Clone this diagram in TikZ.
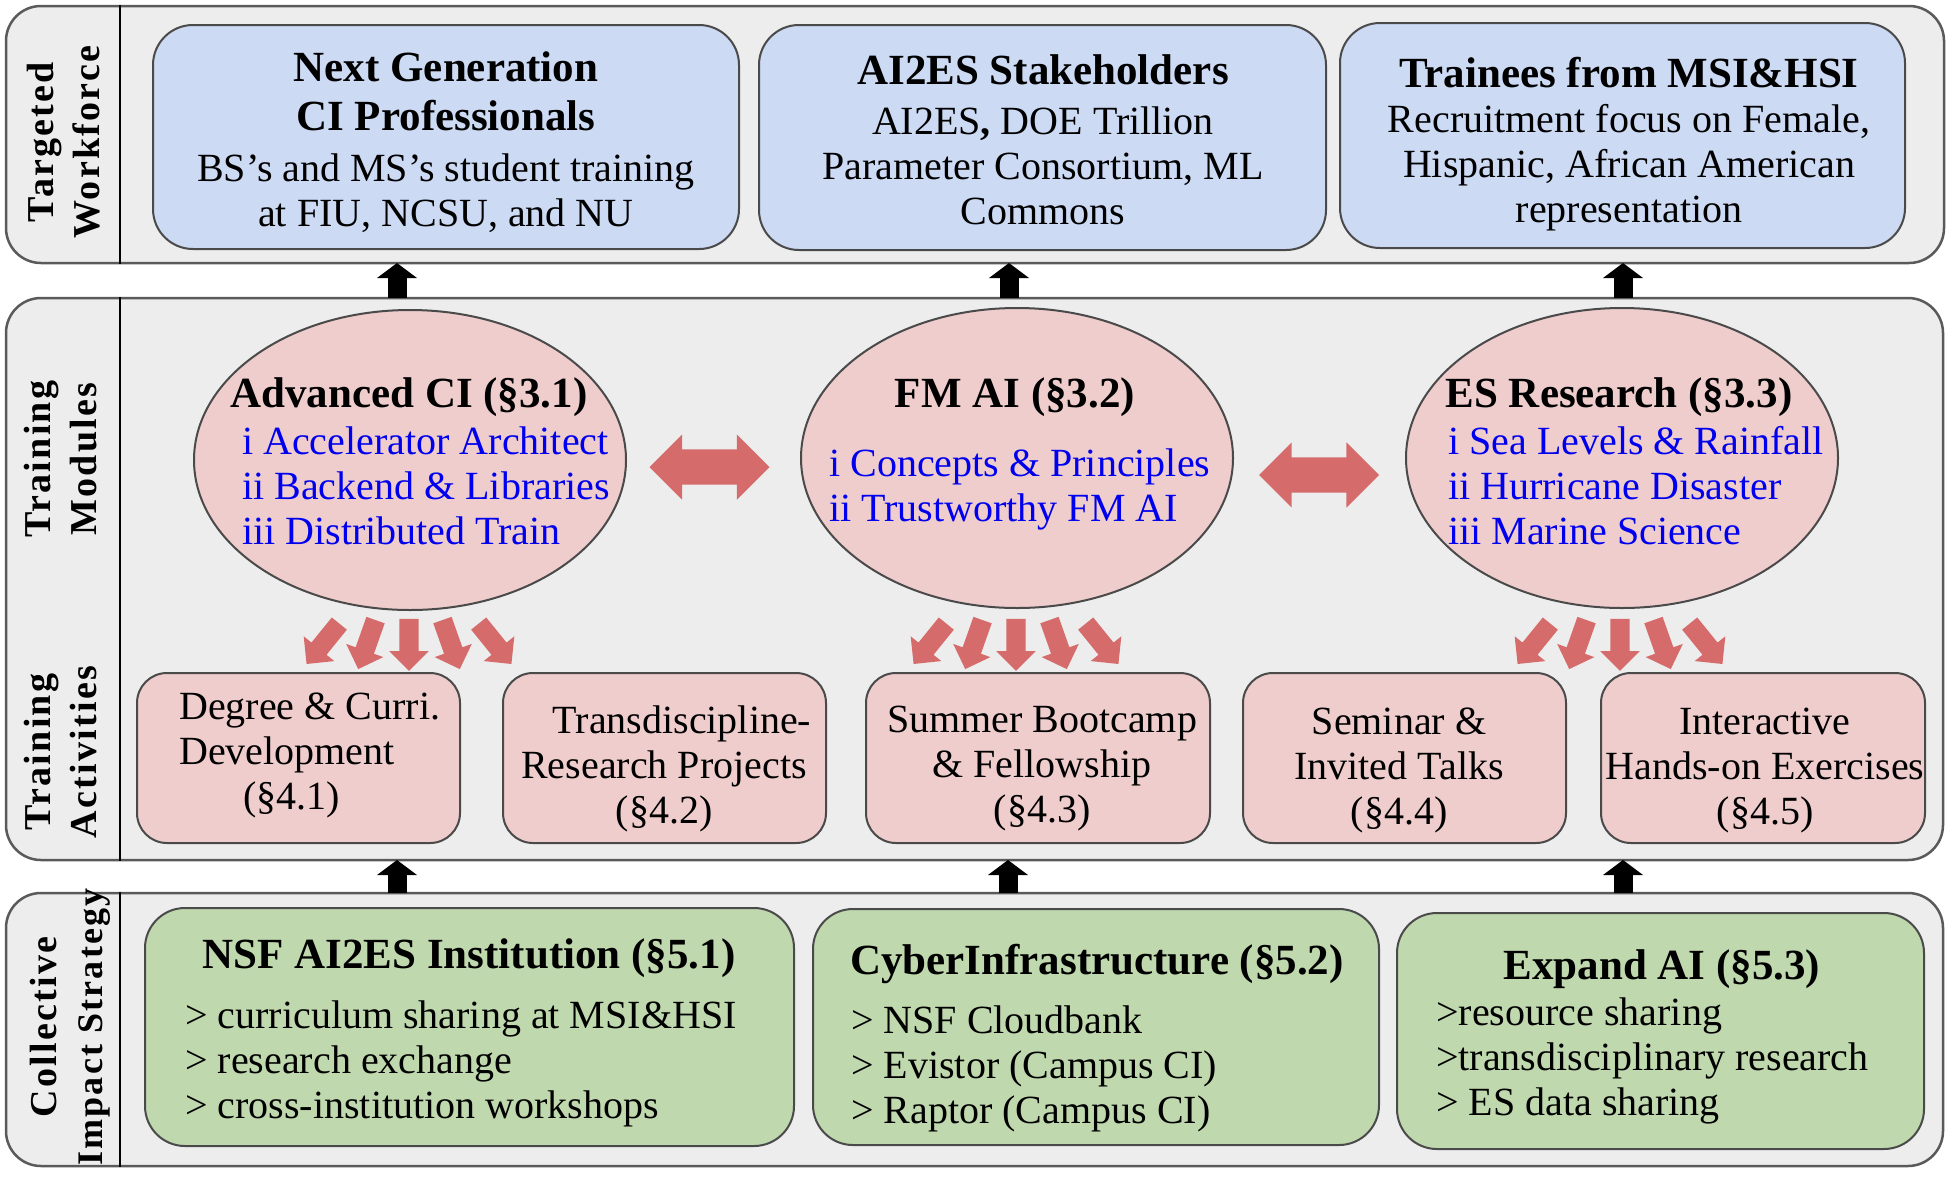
\documentclass[tikz,border=0pt]{standalone}
\usepackage{fontspec}
\newfontfamily\tnr{Liberation Serif}
\newfontfamily\lbltnr{Liberation Serif}[LetterSpace=6]
\usetikzlibrary{shapes.geometric,shapes.arrows,arrows.meta}
\definecolor{panelfill}{HTML}{EDEDED}
\definecolor{paneldraw}{HTML}{5A5A5A}
\definecolor{bluefill}{HTML}{CCDAF4}
\definecolor{pinkfill}{HTML}{EFCDCD}
\definecolor{greenfill}{HTML}{BFD8AD}
\definecolor{fatred}{HTML}{D56B6B}
\definecolor{itemblue}{HTML}{0000EE}
\definecolor{boxdraw}{HTML}{4A4A4A}
\newcommand{\bodyfnt}{\tnr\fontsize{40}{45}\selectfont}
\newcommand{\titlefnt}{\tnr\fontsize{43}{49}\selectfont\bfseries}
\newcommand{\lblfnt}{\lbltnr\fontsize{38}{46}\selectfont\bfseries}
\begin{document}
\begin{tikzpicture}[x=1pt,y=-1pt,
  panel/.style={draw=paneldraw, line width=2.5pt, fill=panelfill, rounded corners=35pt, inner sep=0pt},
  topbox/.style={draw=boxdraw, line width=2pt, fill=bluefill, rounded corners=40pt, inner sep=0pt},
  actbox/.style={draw=boxdraw, line width=2pt, fill=pinkfill, rounded corners=30pt, inner sep=0pt, minimum height=170pt},
  grnbox/.style={draw=boxdraw, line width=2pt, fill=greenfill, rounded corners=40pt, inner sep=0pt},
  modell/.style={ellipse, draw=boxdraw, line width=2pt, fill=pinkfill, inner sep=0pt, minimum width=432pt, minimum height=300pt},
  txt/.style={inner sep=0pt, font=\bodyfnt, text=black},
  ttl/.style={inner sep=0pt, font=\titlefnt, text=black},
  itm/.style={inner sep=0pt, font=\bodyfnt, text=itemblue, align=left, anchor=west},
  lst/.style={inner sep=0pt, font=\bodyfnt, text=black, align=left, anchor=west},
  lbl/.style={inner sep=0pt, font=\lblfnt, align=center, rotate=90},
  divider/.style={draw=black, line width=2pt},
  uparrow/.style={draw=black, line width=19pt, -{Triangle[length=15pt,width=40pt,line width=0pt]}},
  fanarrow/.style={single arrow, fill=fatred, draw=none, inner xsep=0pt, inner ysep=9.5pt, minimum width=0pt, minimum height=52pt, single arrow head extend=10pt},
  dblarrow/.style={double arrow, fill=fatred, draw=none, inner xsep=0pt, inner ysep=17.5pt, minimum width=0pt, minimum height=120pt, double arrow head extend=15pt}
]
\useasboundingbox (0,0) rectangle (1954,1176);

% panels
\node[panel, minimum width=1938pt, minimum height=257pt] (toppanel) at (975,134.5) {};
\node[panel, minimum width=1937pt, minimum height=562pt] (midpanel) at (974.5,579) {};
\node[panel, minimum width=1937pt, minimum height=273pt] (botpanel) at (974.5,1029.5) {};
\draw[divider] ([xshift=115pt]toppanel.north west) -- ([xshift=115pt]toppanel.south west);
\draw[divider] ([xshift=115pt]midpanel.north west) -- ([xshift=115pt]midpanel.south west);
\draw[divider] ([xshift=115pt]botpanel.north west) -- ([xshift=115pt]botpanel.south west);

% side labels
\node[lbl] (L1) at (64,142) {Targeted\\Workforce};
\node[lbl] (L2) at (61,459) {Training\\Modules};
\node[lbl] (L3) at (61,752) {Training\\Activities};
\node[lbl] (L4) at (70,1027) {Collective\\{\fontsize{36}{46}\selectfont Impact Strategy}};

% top boxes
\node[topbox, minimum width=586pt, minimum height=224pt] (B1) at (446,137) {};
\node[topbox, minimum width=567pt, minimum height=225pt] (B2) at (1042.5,137.5) {};
\node[topbox, minimum width=565pt, minimum height=225pt] (B3) at (1622.5,135.5) {};
\node[ttl, align=center] (B1t) at (446,91) {Next Generation\\CI Professionals};
\node[txt, align=center] (B1b) at (446,193) {BS’s and MS’s student training\\at FIU, NCSU, and NU};
\node[ttl] (B2t) at (1043,70) {AI2ES Stakeholders};
\node[txt, align=center] (B2b) at (1043,166) {AI2ES\textbf{,} DOE Trillion\\Parameter Consortium, ML\\Commons};
\node[ttl] (B3t) at (1629,73) {Trainees from MSI\&HSI};
\node[txt, align=center] (B3b) at (1629,168) {Recruitment focus on Female,\\Hispanic, African American\\representation};

% up arrows
\coordinate (ua1) at (397,298); \coordinate (ub1) at (397,263);
\coordinate (ua2) at (1009,298); \coordinate (ub2) at (1009,263);
\coordinate (ua3) at (1623,298); \coordinate (ub3) at (1623,263);
\coordinate (uc1) at (397,893); \coordinate (ud1) at (397,860);
\coordinate (uc2) at (1008,893); \coordinate (ud2) at (1008,860);
\coordinate (uc3) at (1623,893); \coordinate (ud3) at (1623,860);
\draw[uparrow] (ua1) -- (ub1);
\draw[uparrow] (ua2) -- (ub2);
\draw[uparrow] (ua3) -- (ub3);
\draw[uparrow] (uc1) -- (ud1);
\draw[uparrow] (uc2) -- (ud2);
\draw[uparrow] (uc3) -- (ud3);

% modules
\node[modell] (E1) at (410,460) {};
\node[modell] (E2) at (1017,458) {};
\node[modell] (E3) at (1622,458) {};
\node[ttl] (E1t) at (409,397) {Advanced CI (\S3.1)};
\node[itm] (E1i) at (242,486) {i Accelerator Architect\\ii Backend \& Libraries\\iii Distributed Train};
\node[ttl] (E2t) at (1015,397) {FM AI (\S3.2)};
\node[itm] (E2i) at (829,489) {i Concepts \& Principles\\ii Trustworthy FM AI};
\node[ttl] (E3t) at (1619,397) {ES Research (\S3.3)};
\node[itm] (E3i) at (1448,486) {i Sea Levels \& Rainfall\\ii Hurricane Disaster\\iii Marine Science};

\node[dblarrow] (D1) at (709.5,467) {};
\node[dblarrow] (D2) at (1319,475) {};

\foreach \cx/\k in {409/1,1016/2,1620/3}{
  \foreach \dx/\ang/\j in {-83/-129/1, -40.5/-109.5/2, 0/-90/3, 40.5/-70.5/4, 83/-51/5}{
    \node[fanarrow, rotate=\ang] (F\k\j) at (\cx+\dx,640) {};
  }
}

% activities
\node[actbox, minimum width=323pt] (A1) at (298.5,758) {};
\node[actbox, minimum width=323pt] (A2) at (664.5,758) {};
\node[actbox, minimum width=344pt] (A3) at (1038,758) {};
\node[actbox, minimum width=323pt] (A4) at (1404.5,758) {};
\node[actbox, minimum width=324pt] (A5) at (1763,758) {};
\node[txt, align=left, anchor=west] (A1t) at (179,755) {Degree \& Curri.\\Development\\\hspace*{64pt}(\S4.1)};
\node[txt, align=center] (A2t) at (664,769) {\hspace*{36pt}Transdiscipline-\\Research Projects\\(\S4.2)};
\node[txt, align=center] (A3t) at (1042,769) {Summer Bootcamp\\\& Fellowship\\(\S4.3)};
\node[txt, align=center] (A4t) at (1399,770) {Seminar \&\\Invited Talks\\(\S4.4)};
\node[txt, align=center] (A5t) at (1765,771) {Interactive\\Hands-on Exercises\\(\S4.5)};

% strategy
\node[grnbox, minimum width=649pt, minimum height=238pt] (G1) at (469.5,1027) {};
\node[grnbox, minimum width=566pt, minimum height=236pt] (G2) at (1096,1027) {};
\node[grnbox, minimum width=527pt, minimum height=236pt] (G3) at (1660.5,1031) {};
\node[ttl] (G1t) at (469,958) {NSF AI2ES Institution (\S5.1)};
\node[lst] (G1i) at (185,1064) {> curriculum sharing at MSI\&HSI\\> research exchange\\> cross-institution workshops};
\node[ttl] (G2t) at (1097,964) {CyberInfrastructure (\S5.2)};
\node[lst] (G2i) at (851,1069) {> NSF Cloudbank\\> Evistor (Campus CI)\\> Raptor (Campus CI)};
\node[ttl] (G3t) at (1662,969) {Expand AI (\S5.3)};
\node[lst] (G3i) at (1436,1061) {>resource sharing\\>transdisciplinary research\\> ES data sharing};
\end{tikzpicture}
\end{document}
